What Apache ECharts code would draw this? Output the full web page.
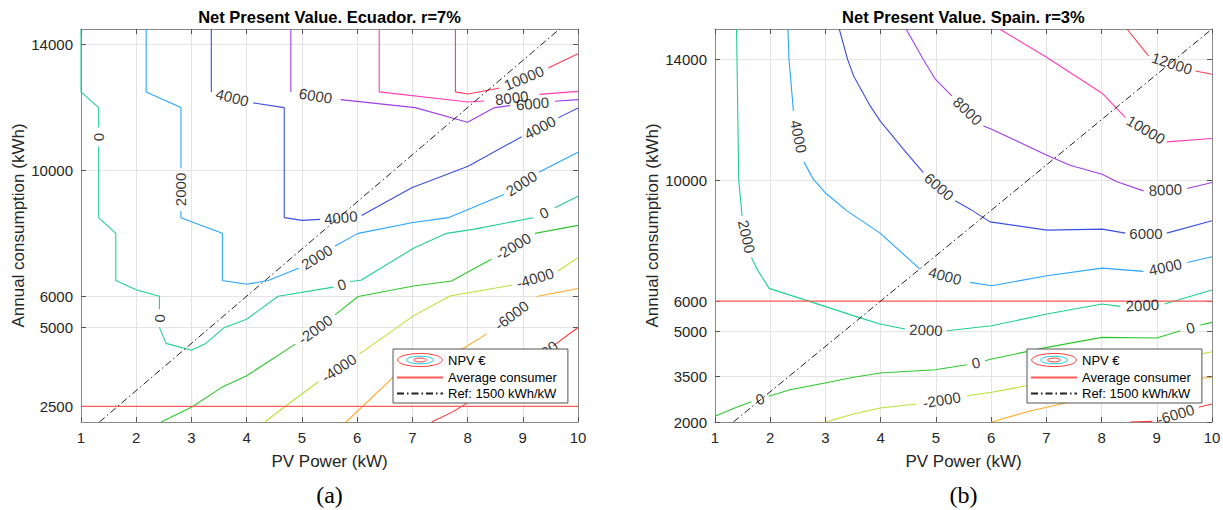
<!DOCTYPE html>
<html><head><meta charset="utf-8">
<script src="https://cdn.jsdelivr.net/npm/echarts@6/dist/echarts.min.js"></script>
<style>html,body{margin:0;padding:0;background:#fff}#c{width:1223px;height:510px}</style>
</head><body><div id="c"></div>
<script>
// ---------- data ----------
const xTicks = [1,2,3,4,5,6,7,8,9,10];
const ecuadorYTicks = [2500,5000,6000,10000,14000];
const spainYTicks = [2000,3500,5000,6000,10000,14000];
const ecuadorLevels = [-8000,-6000,-4000,-2000,0,2000,4000,6000,8000,10000];
const spainLevels = [-6000,-4000,-2000,0,2000,4000,6000,8000,10000,12000];
const ecuadorAverage = [[1,2500],[10,2500]];
const spainAverage = [[1,6000],[10,6000]];
const ecuadorRef = [[1.333,2000],[9.667,14500]];
const spainRef = [[1.333,2000],[10,15000]];

// contour polylines (null = gap where the contour label sits)
const ecM8000 = [[7.35,2000],[7.74,2330],[9.1,3800],null,[9.55,4420],[10,5006]];
const ecM6000 = [[5.8,2000],[6.68,3470],[7.95,4371],[8.34,4794],null,[9.25,5990],[10,6244]];
const ecM4000 = [[4.33,2000],[4.7,2500],[5.3,3279],null,[6.04,4159],[7.02,5375],[7.68,6010],[8.8,6349],null,[9.64,6803],[10,7229]];
const ecM2000 = [[2.45,2000],[3,2467],[3.55,3102],[4,3470],[4.88,4476],null,[5.6,5406],[6.02,5990],[7.02,6327],[7.71,6486],[8.43,7175],null,[9.22,8000],[10,8254]];
const ec0 = [[1,14500],[1,12500],[1.32,12000],[1.32,11370],null,[1.32,10760],[1.32,8500],[1.63,8000],[1.63,6500],[2.01,6200],[2.42,6000],[2.42,5590],null,[2.42,5010],[2.54,4500],[3,4280],[3.26,4500],[3.59,5000],[4,5270],[4.57,6000],[5.57,6290],null,[5.87,6467],[6.07,6508],[7.02,7524],[7.62,8000],[8.1,8127],[9.19,8498],null,[9.58,8816],[10,9184]];
const ecP2000 = [[2.18,14500],[2.18,12500],[2.81,12000],[2.81,10086],null,[2.81,8708],[2.81,8500],[3.34,8149],[3.56,8000],[3.56,6500],[4,6380],[4.39,6500],[4.94,6889],null,[5.6,7597],[6.02,8000],[6.99,8340],[7.65,8500],[8.01,8762],[8.66,9238],null,[9.29,9946],[10,10581]];
const ecP4000 = [[3.36,14500],[3.36,12500],null,[4.12,12149],[4.68,12000],[4.68,8500],[5,8413],[5.33,8444],null,[6.08,8571],[6.99,9451],[8.01,10137],[8.98,11070],null,[9.64,11673],[10,11990]];
const ecP6000 = [[4.8,14500],[4.8,12500],null,[5.7,12254],[7.05,12000],[8,11533],[8.49,12000],[8.77,12063],null,[9.58,12200],[10,12254]];
const ecP8000 = [[6.4,14500],[6.4,12500],[8.01,12180],[8.3,12210],null,[9.3,12420],[10,12517]];
const ecP10000 = [[7.78,14500],[7.78,12500],[8.01,12435],[8.58,12625],null,[9.46,13260],[10,13714]];

const spM6000 = [[8.52,2000],[8.92,2020],null,[9.76,2486],[10,2595]];
const spM4000 = [[6.01,2000],[6.65,2340],[8,2900],[9,3200],[9.73,3420],[10,3480]];
const spM2000 = [[3,2000],[3.51,2264],[3.99,2463],[4.65,2595],null,[5.56,2869],[6.01,2982],[6.65,3200],[8,3750],[9,4050],[9.79,4250],[10,4324]];
const sp0 = [[1,2190],[1.39,2486],[1.66,2671],null,[1.97,2850],[2.36,3068],[2.99,3289],[3.51,3478],[3.99,3620],[4.99,3729],[5.56,3894],null,[5.89,4026],[6.01,4083],[7.01,4469],[8.01,4800],[9,4777],[9.43,5018],null,[9.79,5207],[10,5296]];
const spP2000 = [[1.39,15000],[1.43,10000],[1.49,8820],null,[1.66,7445],[1.76,7058],[1.98,6420],[2.99,5825],[3.6,5461],[3.99,5240],[4.44,5074],null,[5.2,5018],[6.01,5183],[7.01,5570],[8.01,5901],[8.34,5825],null,[9.14,5901],[10,6364]];
const spP4000 = [[2.32,15000],[2.34,14000],[2.42,12291],null,[2.61,10605],[2.78,10033],[2.99,9593],[3.39,8985],[3.99,8248],[4.71,7058],null,[5.62,6618],[6.01,6506],[7.01,6836],[8.01,7091],[8.76,6982],null,[9.55,7279],[10,7464]];
const spP6000 = [[3.25,15000],[3.4,14000],[3.51,13448],[3.81,12456],[3.99,11960],[4.41,11025],[4.77,10255],null,[5.35,9316],[5.62,9041],[5.98,8621],[7.01,8347],[8.01,8380],[8.43,8248],null,[9.18,8248],[10,8655]];
const spP8000 = [[4.46,15000],[4.77,14000],[4.99,13339],[5.29,12787],null,[5.86,11795],[6.01,11686],[7.01,10826],[7.43,10496],[8.01,10198],[8.28,9944],[8.76,9646],null,[9.55,9726],[10,9924]];
const spP10000 = [[6.15,15000],[7.01,14056],[8.01,12876],[8.43,12073],null,[9.18,11266],[10,11379]];
const spP12000 = [[8.46,15000],[8.85,14109],null,[9.7,13613],[10,13504]];

const ecuadorContours = [ecM8000,ecM6000,ecM4000,ecM2000,ec0,ecP2000,ecP4000,ecP6000,ecP8000,ecP10000];
const spainContours = [spM6000,spM4000,spM2000,sp0,spP2000,spP4000,spP6000,spP8000,spP10000,spP12000];

// ---------- style ----------
const levelColors = ['#ff3232','#ffaa2a','#b8e232','#2ec82e','#22d08e','#2aa4ff','#3c4fe0','#a23ee6','#ff3cb4','#ff3c5a'];
const FONT = '"Liberation Sans", Arial, Helvetica, sans-serif';
const TXT = '#262626';
const npvIcon = 'image://data:image/svg+xml;charset=utf-8,' + encodeURIComponent(
 '<svg xmlns="http://www.w3.org/2000/svg" width="46" height="16" viewBox="0 0 46 16" preserveAspectRatio="none"><g fill="none" stroke-width="1"><ellipse cx="23" cy="8" rx="22.3" ry="6.6" stroke="#ff3c3c"/><ellipse cx="23" cy="8" rx="13.5" ry="3.8" stroke="#22c8e0"/><ellipse cx="23" cy="8" rx="6.5" ry="1.9" stroke="#ff3c3c"/></g></svg>');

const chart = echarts.init(document.getElementById('c'), null, {renderer: 'svg'});

const grids = [
  {left: 81, top: 29, width: 497, height: 393, outerBoundsMode: 'none'},
  {left: 715, top: 29, width: 497, height: 393, outerBoundsMode: 'none'}
];
const yRanges = [[2000,14500],[2000,15000]];
const yTicks = [ecuadorYTicks, spainYTicks];

const xAxes = [], yAxes = [];
[0,1].forEach(g => {
  xAxes.push({
    gridIndex: g, type: 'value', min: 1, max: 10, interval: 1, position: 'bottom',
    axisLine: {show: true, onZero: false, lineStyle: {color: '#8a8a8a', width: 1}},
    axisTick: {show: true, inside: true, length: 5, lineStyle: {color: '#555'}},
    axisLabel: {color: TXT, fontSize: 15, fontFamily: FONT, margin: 8, formatter: v => String(v)},
    splitLine: {show: true, lineStyle: {color: '#e4e4e4', width: 1}},
    name: 'PV Power (kW)', nameLocation: 'middle', nameGap: 31,
    nameTextStyle: {color: TXT, fontSize: 17, fontFamily: FONT}
  });
  xAxes.push({
    gridIndex: g, type: 'value', min: 1, max: 10, interval: 1, position: 'top',
    axisLine: {show: true, onZero: false, lineStyle: {color: '#8a8a8a', width: 1}},
    axisTick: {show: true, inside: true, length: 5, lineStyle: {color: '#555'}},
    axisLabel: {show: false}, splitLine: {show: false}
  });
  yAxes.push({
    gridIndex: g, type: 'value', min: yRanges[g][0], max: yRanges[g][1], position: 'left',
    axisLine: {show: true, onZero: false, lineStyle: {color: '#8a8a8a', width: 1}},
    axisTick: {show: true, inside: true, length: 5, customValues: yTicks[g], lineStyle: {color: '#555'}},
    axisLabel: {color: TXT, fontSize: 15, fontFamily: FONT, margin: 8, customValues: yTicks[g], formatter: v => String(v)},
    splitLine: {show: true, lineStyle: {color: '#e4e4e4', width: 1}},
    name: 'Annual consumption (kWh)', nameLocation: 'middle', nameRotate: 90, nameGap: 54,
    nameTextStyle: {color: TXT, fontSize: 17, fontFamily: FONT}
  });
  yAxes.push({
    gridIndex: g, type: 'value', min: yRanges[g][0], max: yRanges[g][1], position: 'right',
    axisLine: {show: true, onZero: false, lineStyle: {color: '#8a8a8a', width: 1}},
    axisTick: {show: true, inside: true, length: 5, customValues: yTicks[g], lineStyle: {color: '#555'}},
    axisLabel: {show: false}, splitLine: {show: false}
  });
});

const toData = arr => arr.map(p => p === null ? ['-','-'] : p);

const series = [];
const panels = [
  {contours: ecuadorContours, levels: ecuadorLevels, avg: ecuadorAverage, ref: ecuadorRef},
  {contours: spainContours, levels: spainLevels, avg: spainAverage, ref: spainRef}
];
panels.forEach((p, g) => {
  const ax = g * 2;
  p.contours.forEach((c, i) => {
    series.push({
      type: 'line', xAxisIndex: ax, yAxisIndex: ax, data: toData(c),
      symbol: 'none', showSymbol: false, connectNulls: false, silent: true, z: 2,
      lineStyle: {color: levelColors[i], width: 1.1}, itemStyle: {color: levelColors[i]}
    });
  });
  series.push({
    name: 'Average consumer', type: 'line', xAxisIndex: ax, yAxisIndex: ax, data: p.avg,
    symbol: 'none', silent: true, z: 3,
    lineStyle: {color: '#ff5a5a', width: 1.3}, itemStyle: {color: '#ff5a5a'}
  });
  series.push({
    name: 'Ref: 1500 kWh/kW', type: 'line', xAxisIndex: ax, yAxisIndex: ax, data: p.ref,
    symbol: 'none', silent: true, z: 3,
    lineStyle: {color: '#222', width: 1, type: [7, 3, 1.5, 3]}, itemStyle: {color: '#222'}
  });
  series.push({
    name: 'NPV €', type: 'line', xAxisIndex: ax, yAxisIndex: ax, data: [],
    symbol: 'none', itemStyle: {color: '#ff3c3c'}, lineStyle: {color: '#ff3c3c'}
  });
  series.push({
    id: 'labels' + g, type: 'scatter', xAxisIndex: ax, yAxisIndex: ax, data: [],
    symbolSize: 1, silent: true, z: 4, itemStyle: {color: 'rgba(0,0,0,0)'},
    label: {show: true, position: 'inside', color: '#000', fontSize: 15, fontFamily: FONT}
  });
});

const hiddenSymbol = {color: 'rgba(0,0,0,0)', borderColor: 'rgba(0,0,0,0)', borderWidth: 0, opacity: 0};
const legendCommon = {
  orient: 'vertical', top: 349, itemWidth: 46, itemHeight: 16, itemGap: 3,
  padding: [3, 11, 3, 3], backgroundColor: '#fff', borderColor: '#555', borderWidth: 1,
  borderRadius: 0, selectedMode: false, z: 20, symbolKeepAspect: false,
  textStyle: {fontSize: 13, color: '#000', fontFamily: FONT},
  data: [
    {name: 'NPV €', icon: npvIcon},
    {name: 'Average consumer', itemStyle: hiddenSymbol},
    {name: 'Ref: 1500 kWh/kW', itemStyle: hiddenSymbol}
  ]
};

chart.setOption({
  animation: false,
  backgroundColor: '#fff',
  textStyle: {fontFamily: FONT},
  grid: grids,
  xAxis: xAxes,
  yAxis: yAxes,
  legend: [Object.assign({left: 393}, legendCommon), Object.assign({left: 1027}, legendCommon)],
  series: series,
  graphic: [
    {type: 'text', x: 329.5, y: 17, z: 30, style: {text: 'Net Present Value. Ecuador. r=7%', align: 'center', verticalAlign: 'middle', font: 'bold 16.5px ' + FONT, fill: '#000'}},
    {type: 'text', x: 963.4, y: 17, z: 30, style: {text: 'Net Present Value. Spain. r=3%', align: 'center', verticalAlign: 'middle', font: 'bold 16.5px ' + FONT, fill: '#000'}},
    {type: 'text', x: 329.5, y: 495, z: 30, style: {text: '(a)', align: 'center', verticalAlign: 'middle', font: '24px "Liberation Serif", "Times New Roman", serif', fill: '#000'}},
    {type: 'text', x: 963.4, y: 495, z: 30, style: {text: '(b)', align: 'center', verticalAlign: 'middle', font: '24px "Liberation Serif", "Times New Roman", serif', fill: '#000'}}
  ]
});

// contour labels: placed in each gap, rotated along the contour
function gapLabels(contour, level, g) {
  const out = [];
  for (let i = 1; i < contour.length - 1; i++) {
    if (contour[i] !== null) continue;
    const a = contour[i - 1], b = contour[i + 1];
    const pa = chart.convertToPixel({gridIndex: g}, a);
    const pb = chart.convertToPixel({gridIndex: g}, b);
    let ang = Math.atan2(-(pb[1] - pa[1]), pb[0] - pa[0]) * 180 / Math.PI;
    if (ang > 90) ang -= 180;
    if (ang <= -90) ang += 180;
    out.push({value: [(a[0] + b[0]) / 2, (a[1] + b[1]) / 2], label: {formatter: String(level), rotate: ang}});
  }
  return out;
}
const labelSeries = panels.map((p, g) => {
  let d = [];
  p.contours.forEach((c, i) => { d = d.concat(gapLabels(c, p.levels[i], g)); });
  return {id: 'labels' + g, data: d};
});
chart.setOption({series: labelSeries});
</script></body></html>
